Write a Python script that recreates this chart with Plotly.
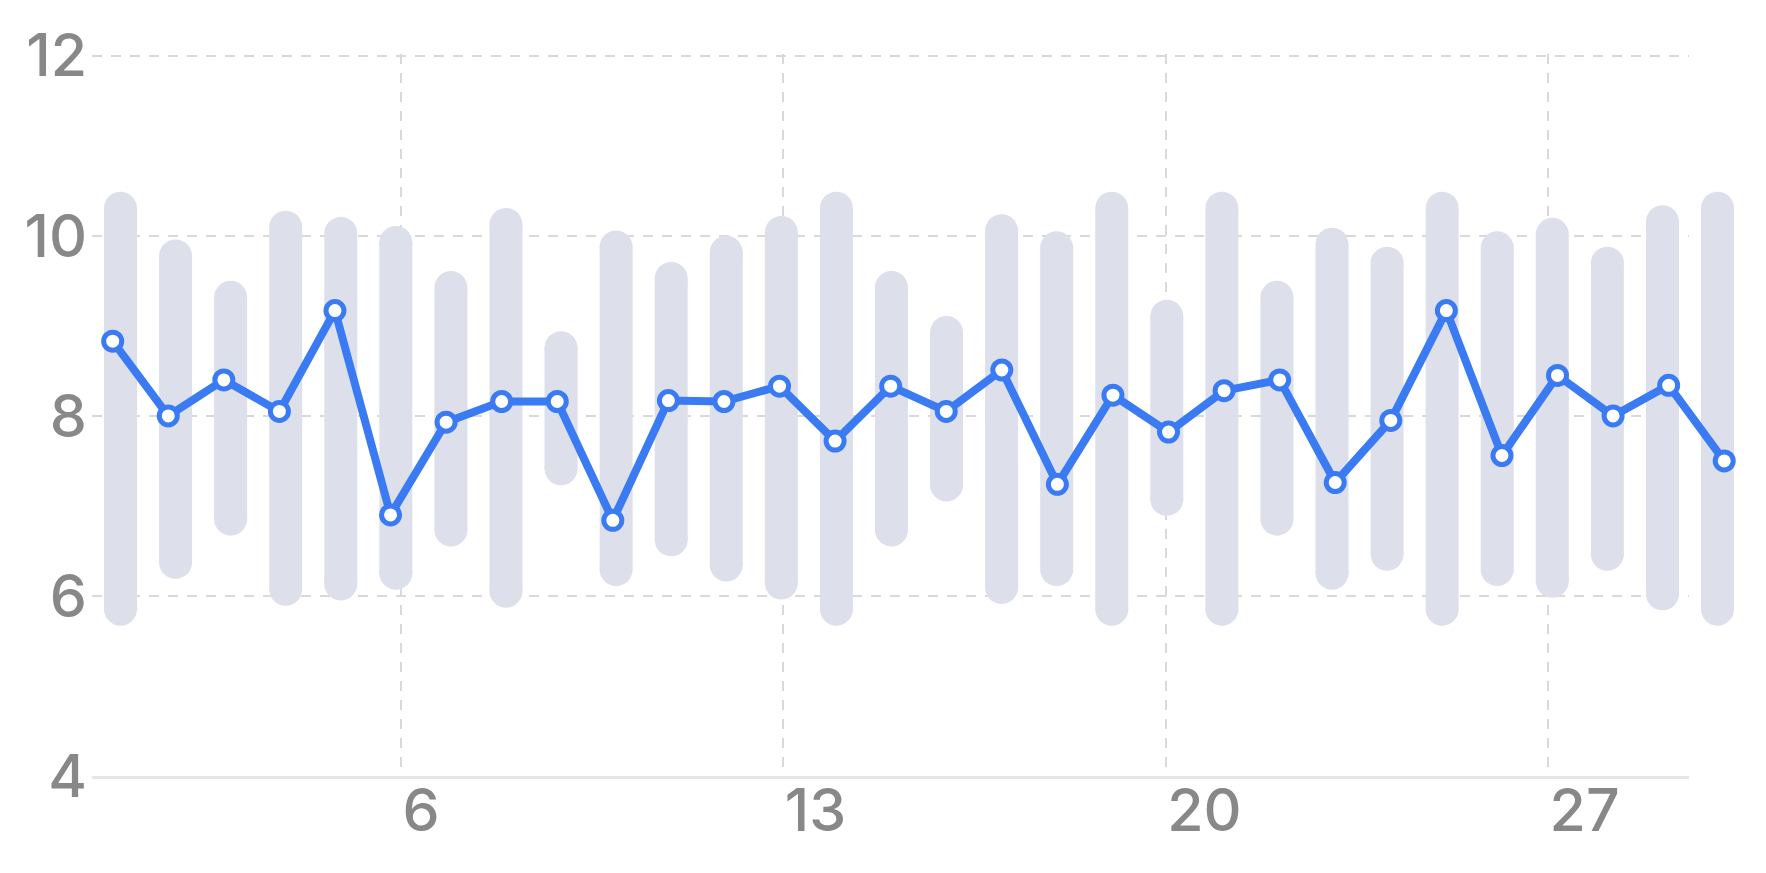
import plotly.graph_objects as go

# ---- data ----
days = list(range(1, 31))
values = [8.83, 8.0, 8.4, 8.05, 9.17, 6.9, 7.93, 8.16, 8.16, 6.84,
          8.17, 8.16, 8.33, 7.72, 8.33, 8.05, 8.51, 7.24, 8.23, 7.82,
          8.28, 8.4, 7.26, 7.95, 9.17, 7.56, 8.45, 8.0, 8.34, 7.5]
range_high = [10.49, 9.96, 9.5, 10.28, 10.21, 10.11, 9.61, 10.31, 8.94, 10.06,
              9.71, 10.0, 10.22, 10.49, 9.61, 9.11, 10.24, 10.05, 10.49, 9.29,
              10.49, 9.5, 10.09, 9.88, 10.49, 10.05, 10.2, 9.88, 10.34, 10.49]
range_low = [5.67, 6.19, 6.67, 5.89, 5.95, 6.07, 6.55, 5.87, 7.23, 6.11,
             6.44, 6.16, 5.96, 5.67, 6.55, 7.05, 5.91, 6.11, 5.67, 6.89,
             5.67, 6.67, 6.07, 6.28, 5.67, 6.11, 5.98, 6.28, 5.84, 5.67]
tick_vals = [6, 13, 20, 27]
tick_text = ["6", "13", "20", "27"]
y_ticks = [4, 6, 8, 10, 12]

# ---- styles ----
BLUE = "#3a7bf3"
BAR = "#dde0ea"
GRID = "#d9d9d9"
LABEL = "#888888"
FONT = "Inter"
FS = 59

# page is offset by the 8px body margin
W, H = 1750, 857
ml, mr, mt, mb = 84, 8, 46, 89
plot_h = H - mt - mb
y_top = 12.02
px_per_unit = plot_h / (y_top - 4)
cap_px = 33
r = (cap_px / 2) / px_per_unit

bar_base = [l + r for l in range_low]
bar_len = [(h - r) - (l + r) for h, l in zip(range_high, range_low)]
cap_x = days + days
cap_y = [l + r for l in range_low] + [h - r for h in range_high]

fig = go.Figure()

# main axes carrier (grid / ticks)
fig.add_trace(go.Scatter(x=[], y=[], xaxis="x", yaxis="y", showlegend=False, hoverinfo="skip"))

# range capsules: body + round caps
fig.add_trace(go.Bar(x=days, base=bar_base, y=bar_len, width=0.599, xaxis="x2", yaxis="y2",
                     marker=dict(color=BAR, line=dict(width=0)),
                     showlegend=False, hoverinfo="skip", cliponaxis=False))
fig.add_trace(go.Scatter(x=cap_x, y=cap_y, xaxis="x2", yaxis="y2", mode="markers",
                         marker=dict(size=cap_px, color=BAR, line=dict(width=0)),
                         showlegend=False, hoverinfo="skip", cliponaxis=False))

# line with markers
fig.add_trace(go.Scatter(x=days, y=values, xaxis="x3", yaxis="y3", mode="lines+markers",
                         line=dict(color=BLUE, width=8),
                         marker=dict(size=18, color="white", line=dict(color=BLUE, width=5)),
                         showlegend=False, cliponaxis=False))

paper_w = W - ml - mr
main_right = 1681
dom = (main_right - ml) / paper_w

tickfont = dict(family=FONT, size=FS, color=LABEL, weight=500)

fig.update_layout(
    width=W, height=H,
    margin=dict(l=ml, r=mr, t=mt, b=mb, pad=0),
    paper_bgcolor="white",
    plot_bgcolor="rgba(0,0,0,0)",
    barmode="overlay",
    font=dict(family=FONT, size=FS, color=LABEL),
    xaxis=dict(domain=[0, dom], range=[0.344, 29.58], tickmode="array",
               tickvals=tick_vals, ticktext=tick_text, ticks="",
               ticklabelposition="outside right", ticklabelstandoff=-19,
               showgrid=True, gridcolor=GRID, gridwidth=2, griddash="10px,9px",
               showline=True, linecolor="#e6e6e6", linewidth=3, zeroline=False,
               tickfont=tickfont, anchor="y"),
    yaxis=dict(domain=[0, 1], range=[4, y_top], tickmode="array", tickvals=y_ticks,
               ticks="", showgrid=True, gridcolor=GRID, gridwidth=2, griddash="10px,9px",
               showline=False, zeroline=False, ticklabelstandoff=4,
               tickfont=tickfont, anchor="x"),
    xaxis2=dict(domain=[0, 1], range=[0.4825, 30.59], visible=False, anchor="y2"),
    yaxis2=dict(domain=[0, 1], range=[4, y_top], visible=False, anchor="x2"),
    xaxis3=dict(domain=[0, 1], range=[0.6275, 30.464], visible=False, anchor="y3"),
    yaxis3=dict(domain=[0, 1], range=[4, y_top], visible=False, anchor="x3"),
)

fig.write_html("out.html")
